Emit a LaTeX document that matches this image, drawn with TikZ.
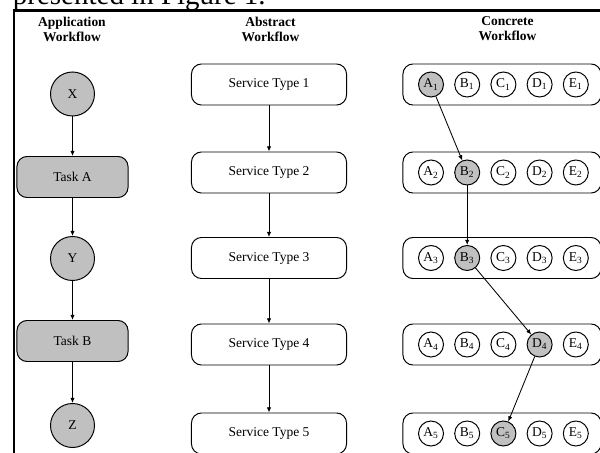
\documentclass[tikz,border=0pt]{standalone}
\usepackage{fontspec}
\setmainfont{Liberation Serif}
\usetikzlibrary{arrows.meta}

\definecolor{shade}{RGB}{192,192,192}

\tikzset{
	every node/.style={font=\fontsize{9.6}{10.8}\selectfont},
	head/.style={align=center, anchor=north, inner sep=0pt,
		font=\fontsize{9.6}{10.7}\selectfont\bfseries},
	bigdot/.style={circle, draw, line width=0.7pt, fill=shade, minimum size=1.1cm, inner sep=0pt},
	taskbox/.style={rectangle, rounded corners=0.25cm, draw, line width=0.7pt, fill=shade,
		minimum width=2.775cm, minimum height=1.025cm},
	stbox/.style={rectangle, rounded corners=0.25cm, draw, line width=0.7pt,
		minimum width=3.875cm, minimum height=1.025cm},
	rowbox/.style={rectangle, rounded corners=0.25cm, draw, line width=0.7pt,
		minimum width=4.95cm, minimum height=1.025cm},
	dot/.style={circle, draw, line width=0.7pt, minimum size=0.625cm, inner sep=0pt},
	lnk/.style={-{Latex[length=1.3mm,width=1.1mm]}, line width=0.6pt}
}

\begin{document}
\begin{tikzpicture}[x=0.025cm, y=-0.025cm]
	\useasboundingbox (0,0) rectangle (600,453);
	\clip (0,0) rectangle (600,453);

	% Строка текста сверху
	\node[font=\fontsize{20.6}{24}\selectfont, anchor=base west, inner sep=0pt] (caption) at (12.7,5) {presented in Figure 1.};

	% Рамка
	\draw[line width=1.6pt] (14.3,470) |- (620,10.5);

	% Заголовки
	\node[head] (happ) at (72,16.5) {Application\\Workflow};
	\node[head] (habs) at (270.5,16.5) {Abstract\\Workflow};
	\node[head] (hcon) at (507.5,16.5) {Concrete\\Workflow};

	% Левая колонка
	\node[bigdot] (X) at (72.5,94) {X};
	\node[taskbox] (taskA) at (72.5,177) {Task A};
	\node[bigdot] (Y) at (72.5,258.5) {Y};
	\node[taskbox] (taskB) at (72.5,341) {Task B};
	\node[bigdot] (Z) at (72.5,425.5) {Z};

	\draw[lnk] (X) -- (taskA);
	\draw[lnk] (taskA) -- (Y);
	\draw[lnk] (Y) -- (taskB);
	\draw[lnk] (taskB) -- (Z);

	% Средняя колонка
	\node[stbox] (st1) at (269,84.5) {Service Type 1};
	\node[stbox] (st2) at (269,172.5) {Service Type 2};
	\node[stbox] (st3) at (269,258) {Service Type 3};
	\node[stbox] (st4) at (269,344.5) {Service Type 4};
	\node[stbox] (st5) at (269,433.5) {Service Type 5};

	\draw[lnk] (st1) -- (st2);
	\draw[lnk] (st2) -- (st3);
	\draw[lnk] (st3) -- (st4);
	\draw[lnk] (st4) -- (st5);

	% Правая колонка
	\foreach \r/\y/\s in {1/84.5/A, 2/172.5/B, 3/258/B, 4/344.5/D, 5/433.5/C} {
		\node[rowbox] (row\r) at (502,\y) {};
		\foreach \c [count=\i from 0] in {A,B,C,D,E} {
			\ifx\c\s \def\fillcol{shade}\else \def\fillcol{white}\fi
			\node[dot, fill=\fillcol] (\c\r) at (431+36.2*\i,\y) {\c\textsubscript{\r}};
		}
	}

	\draw[lnk] (A1) -- (B2);
	\draw[lnk] (B2) -- (B3);
	\draw[lnk] (B3) -- (D4);
	\draw[lnk] (D4) -- (C5);
\end{tikzpicture}
\end{document}
